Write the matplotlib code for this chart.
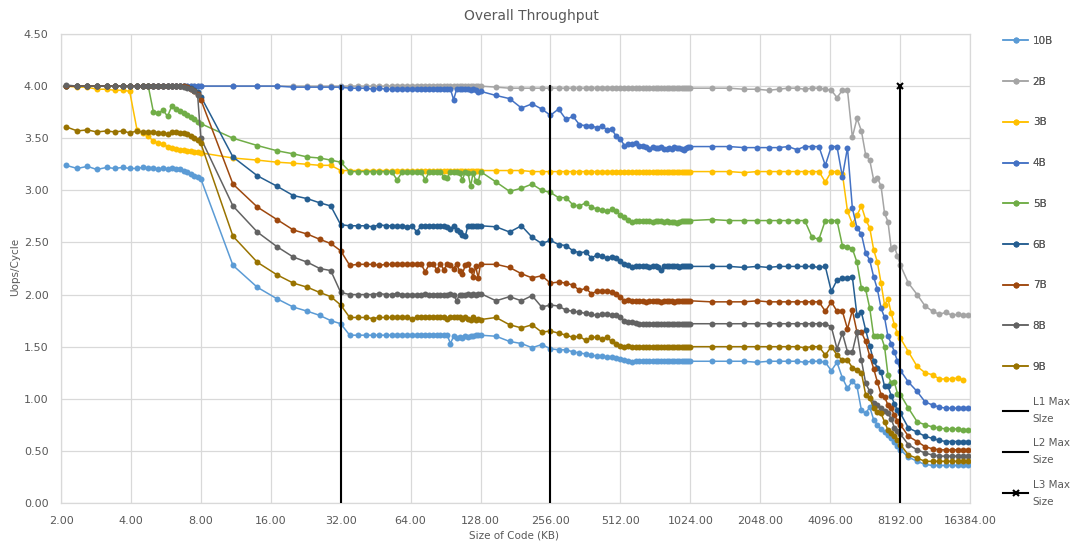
import numpy as np
import matplotlib
matplotlib.use('Agg')
import matplotlib.pyplot as plt
from matplotlib.lines import Line2D
from matplotlib.ticker import FixedLocator, NullLocator, FuncFormatter

# code size of each test run, KB
size_kb = [
    2.1, 2.35, 2.6, 2.85, 3.15, 3.4, 3.7, 3.95, 4.25, 4.5, 4.75, 5.0,
    5.25, 5.5, 5.75, 6.0, 6.25, 6.5, 6.75, 7.0, 7.25, 7.5, 7.75,
    8, 11, 14, 17, 20, 23, 26, 29, 32,
    35, 38, 41, 44, 47, 50, 53, 56, 59, 62, 65, 68, 71, 74, 77, 80,
    83, 86, 89, 92, 95, 98, 101, 104, 107, 110, 113, 116, 119, 122, 125, 128,
    149.3, 170.7, 192, 213.3, 234.7, 256, 277.3, 298.7, 320, 341.3, 362.7, 384, 405.3, 426.7,
    448, 469.3, 490.7, 512, 533.3, 554.7, 576, 597.3, 618.7, 640, 661.3, 682.7, 704, 725.3,
    746.7, 768, 789.3, 810.7, 832, 853.3, 874.7, 896, 917.3, 938.7, 960, 981.3, 1002.7, 1024,
    1264, 1504, 1744, 1984, 2224, 2464, 2704, 2944, 3184, 3424, 3664, 3904, 4144, 4384, 4624,
    4864, 5104, 5344, 5584, 5824, 6064, 6304, 6544, 6784, 7024, 7264, 7504, 7744, 7984, 8224,
    8900, 9700, 10500, 11300, 12100, 12900, 13700, 14500, 15300, 16100,
]

# uops per cycle for each instruction length
upc_10b = [
    3.24, 3.21, 3.23, 3.20, 3.22, 3.21, 3.22, 3.21, 3.21, 3.22, 3.21, 3.21,
    3.20, 3.21, 3.20, 3.21, 3.20, 3.20, 3.19, 3.18, 3.16, 3.14, 3.13,
    3.11, 2.28, 2.07, 1.96, 1.88, 1.84, 1.80, 1.75, 1.72,
    1.61, 1.61, 1.61, 1.61, 1.61, 1.61, 1.61, 1.61, 1.61, 1.61, 1.61, 1.61, 1.61, 1.61, 1.61, 1.61,
    1.61, 1.61, 1.61, 1.61, 1.53, 1.60, 1.58, 1.59, 1.58, 1.60, 1.59, 1.60, 1.60, 1.61, 1.61, 1.61,
    1.60, 1.55, 1.53, 1.49, 1.52, 1.48, 1.47, 1.47, 1.45, 1.44, 1.43, 1.42, 1.41, 1.41,
    1.40, 1.40, 1.39, 1.38, 1.37, 1.36, 1.35, 1.36, 1.36, 1.36, 1.36, 1.36, 1.36, 1.36,
    1.36, 1.36, 1.36, 1.36, 1.36, 1.36, 1.36, 1.36, 1.36, 1.36, 1.36, 1.36, 1.36, 1.36,
    1.36, 1.36, 1.36, 1.35, 1.36, 1.36, 1.36, 1.36, 1.35, 1.36, 1.36, 1.35, 1.27, 1.35, 1.20,
    1.10, 1.17, 1.12, 0.89, 0.86, 0.92, 0.80, 0.75, 0.71, 0.68, 0.65, 0.62, 0.59, 0.55, 0.51,
    0.44, 0.40, 0.37, 0.36, 0.36, 0.36, 0.36, 0.36, 0.36, 0.36,
]
upc_2b = [
    4.00, 4.00, 4.00, 4.00, 4.00, 4.00, 4.00, 4.00, 4.00, 4.00, 4.00, 4.00,
    4.00, 4.00, 4.00, 4.00, 4.00, 4.00, 4.00, 4.00, 4.00, 4.00, 4.00,
    4.00, 4.00, 4.00, 4.00, 4.00, 4.00, 4.00, 4.00, 4.00,
    4.00, 4.00, 4.00, 4.00, 4.00, 4.00, 4.00, 4.00, 4.00, 4.00, 4.00, 4.00, 4.00, 4.00, 4.00, 4.00,
    4.00, 4.00, 4.00, 4.00, 4.00, 4.00, 4.00, 4.00, 4.00, 4.00, 4.00, 4.00, 4.00, 4.00, 4.00, 4.00,
    3.99, 3.98, 3.98, 3.98, 3.98, 3.98, 3.98, 3.98, 3.98, 3.98, 3.98, 3.98, 3.98, 3.98,
    3.98, 3.98, 3.98, 3.98, 3.98, 3.98, 3.98, 3.98, 3.98, 3.98, 3.98, 3.98, 3.98, 3.98,
    3.98, 3.98, 3.98, 3.98, 3.98, 3.98, 3.98, 3.98, 3.98, 3.98, 3.98, 3.98, 3.98, 3.98,
    3.98, 3.98, 3.97, 3.97, 3.96, 3.97, 3.98, 3.98, 3.97, 3.98, 3.98, 3.97, 3.96, 3.89, 3.96,
    3.96, 3.51, 3.69, 3.57, 3.34, 3.29, 3.10, 3.12, 3.04, 2.78, 2.70, 2.44, 2.46, 2.37, 2.28,
    2.11, 2.00, 1.89, 1.84, 1.81, 1.83, 1.80, 1.81, 1.80, 1.80,
]
upc_3b = [
    4.00, 3.99, 3.99, 3.97, 3.97, 3.96, 3.96, 3.95, 3.58, 3.55, 3.52, 3.47,
    3.45, 3.44, 3.42, 3.41, 3.40, 3.39, 3.39, 3.38, 3.38, 3.37, 3.37,
    3.36, 3.31, 3.29, 3.27, 3.26, 3.25, 3.24, 3.24, 3.19,
    3.19, 3.19, 3.19, 3.19, 3.19, 3.19, 3.19, 3.19, 3.19, 3.19, 3.19, 3.19, 3.19, 3.19, 3.19, 3.19,
    3.19, 3.19, 3.19, 3.19, 3.19, 3.19, 3.19, 3.19, 3.19, 3.19, 3.19, 3.19, 3.19, 3.19, 3.19, 3.19,
    3.19, 3.19, 3.19, 3.18, 3.18, 3.18, 3.18, 3.18, 3.18, 3.18, 3.18, 3.18, 3.18, 3.18,
    3.18, 3.18, 3.18, 3.18, 3.18, 3.18, 3.18, 3.18, 3.18, 3.18, 3.18, 3.18, 3.18, 3.18,
    3.18, 3.18, 3.18, 3.18, 3.18, 3.18, 3.18, 3.18, 3.18, 3.18, 3.18, 3.18, 3.18, 3.18,
    3.18, 3.18, 3.17, 3.18, 3.18, 3.18, 3.18, 3.18, 3.18, 3.18, 3.18, 3.08, 3.18, 3.18, 3.16,
    2.80, 2.68, 2.76, 2.85, 2.72, 2.64, 2.43, 2.31, 2.11, 1.90, 1.96, 1.82, 1.71, 1.63, 1.58,
    1.45, 1.31, 1.25, 1.23, 1.19, 1.19, 1.19, 1.20, 1.18, np.nan,
]
upc_4b = [
    4.00, 4.00, 4.00, 4.00, 4.00, 4.00, 4.00, 4.00, 4.00, 4.00, 4.00, 4.00,
    4.00, 4.00, 4.00, 4.00, 4.00, 4.00, 4.00, 4.00, 4.00, 4.00, 4.00,
    4.00, 4.00, 4.00, 4.00, 3.99, 3.99, 3.99, 3.99, 3.99,
    3.98, 3.98, 3.98, 3.97, 3.98, 3.97, 3.97, 3.97, 3.97, 3.97, 3.97, 3.97, 3.97, 3.97, 3.97, 3.97,
    3.97, 3.97, 3.97, 3.97, 3.97, 3.87, 3.97, 3.97, 3.97, 3.97, 3.97, 3.96, 3.97, 3.96, 3.94, 3.95,
    3.91, 3.88, 3.79, 3.83, 3.78, 3.72, 3.78, 3.68, 3.71, 3.63, 3.62, 3.62, 3.60, 3.62,
    3.58, 3.59, 3.52, 3.49, 3.43, 3.44, 3.44, 3.45, 3.43, 3.43, 3.42, 3.40, 3.42, 3.41,
    3.41, 3.42, 3.40, 3.40, 3.41, 3.40, 3.42, 3.41, 3.41, 3.40, 3.39, 3.41, 3.42, 3.42,
    3.42, 3.42, 3.41, 3.41, 3.41, 3.41, 3.42, 3.39, 3.42, 3.42, 3.42, 3.24, 3.42, 3.42, 3.13,
    3.41, 2.83, 2.64, 2.58, 2.40, 2.33, 2.17, 2.05, 1.87, 1.78, 1.60, 1.53, 1.45, 1.36, 1.27,
    1.16, 1.07, 0.97, 0.94, 0.92, 0.91, 0.91, 0.91, 0.91, 0.91,
]
upc_5b = [
    4.00, 4.00, 4.00, 4.00, 4.00, 4.00, 4.00, 4.00, 4.00, 4.00, 4.00, 3.75,
    3.74, 3.77, 3.71, 3.81, 3.78, 3.76, 3.74, 3.72, 3.70, 3.68, 3.66,
    3.64, 3.50, 3.43, 3.38, 3.35, 3.32, 3.31, 3.29, 3.27,
    3.18, 3.18, 3.18, 3.18, 3.18, 3.18, 3.18, 3.10, 3.18, 3.18, 3.18, 3.18, 3.18, 3.10, 3.18, 3.18,
    3.18, 3.18, 3.13, 3.12, 3.18, 3.18, 3.18, 3.17, 3.10, 3.18, 3.17, 3.04, 3.17, 3.09, 3.08, 3.18,
    3.08, 2.99, 3.02, 3.06, 3.00, 2.98, 2.93, 2.93, 2.86, 2.85, 2.88, 2.84, 2.82, 2.81,
    2.80, 2.82, 2.80, 2.76, 2.74, 2.72, 2.70, 2.71, 2.71, 2.71, 2.71, 2.71, 2.70, 2.71,
    2.71, 2.71, 2.70, 2.71, 2.70, 2.70, 2.70, 2.69, 2.70, 2.71, 2.71, 2.71, 2.71, 2.71,
    2.72, 2.71, 2.71, 2.71, 2.71, 2.71, 2.71, 2.71, 2.71, 2.55, 2.53, 2.71, 2.71, 2.71, 2.47,
    2.46, 2.44, 2.31, 2.06, 2.05, 1.87, 1.60, 1.60, 1.60, 1.50, 1.23, 1.15, 1.16, 1.05, 1.04,
    0.91, 0.78, 0.75, 0.73, 0.72, 0.71, 0.71, 0.71, 0.70, 0.70,
]
upc_6b = [
    4.00, 4.00, 4.00, 4.00, 4.00, 4.00, 4.00, 4.00, 4.00, 4.00, 4.00, 4.00,
    4.00, 4.00, 4.00, 4.00, 4.00, 4.00, 4.00, 3.99, 3.98, 3.96, 3.94,
    3.90, 3.32, 3.14, 3.04, 2.95, 2.92, 2.88, 2.85, 2.67,
    2.66, 2.66, 2.66, 2.65, 2.67, 2.66, 2.66, 2.66, 2.66, 2.65, 2.66, 2.60, 2.66, 2.66, 2.66, 2.66,
    2.66, 2.66, 2.66, 2.65, 2.63, 2.66, 2.62, 2.60, 2.57, 2.56, 2.66, 2.66, 2.66, 2.66, 2.66, 2.66,
    2.65, 2.60, 2.66, 2.55, 2.49, 2.52, 2.48, 2.47, 2.42, 2.40, 2.41, 2.35, 2.38, 2.37,
    2.35, 2.36, 2.35, 2.32, 2.29, 2.28, 2.26, 2.27, 2.27, 2.27, 2.27, 2.26, 2.27, 2.27,
    2.26, 2.24, 2.27, 2.27, 2.27, 2.27, 2.27, 2.27, 2.26, 2.27, 2.27, 2.27, 2.27, 2.27,
    2.27, 2.27, 2.26, 2.27, 2.26, 2.27, 2.27, 2.27, 2.27, 2.27, 2.26, 2.27, 2.03, 2.14, 2.16,
    2.16, 2.17, 1.80, 1.83, 1.66, 1.51, 1.36, 1.30, 1.26, 1.12, 1.12, 1.03, 0.95, 0.89, 0.86,
    0.72, 0.68, 0.64, 0.62, 0.60, 0.59, 0.59, 0.59, 0.59, 0.59,
]
upc_7b = [
    4.00, 4.00, 4.00, 4.00, 4.00, 4.00, 4.00, 4.00, 4.00, 4.00, 4.00, 4.00,
    4.00, 4.00, 4.00, 4.00, 4.00, 4.00, 4.00, 3.99, 3.97, 3.95, 3.92,
    3.87, 3.06, 2.84, 2.72, 2.62, 2.58, 2.53, 2.49, 2.42,
    2.28, 2.29, 2.29, 2.29, 2.28, 2.29, 2.29, 2.29, 2.29, 2.29, 2.29, 2.29, 2.29, 2.22, 2.29, 2.29,
    2.24, 2.29, 2.24, 2.29, 2.28, 2.25, 2.29, 2.23, 2.20, 2.28, 2.29, 2.24, 2.17, 2.27, 2.16, 2.29,
    2.29, 2.26, 2.20, 2.16, 2.18, 2.11, 2.12, 2.11, 2.09, 2.04, 2.06, 2.01, 2.03, 2.03,
    2.03, 2.02, 2.01, 1.98, 1.94, 1.95, 1.94, 1.94, 1.94, 1.94, 1.93, 1.94, 1.94, 1.94,
    1.94, 1.93, 1.94, 1.94, 1.94, 1.94, 1.93, 1.94, 1.94, 1.94, 1.94, 1.94, 1.94, 1.94,
    1.93, 1.93, 1.93, 1.94, 1.93, 1.93, 1.93, 1.93, 1.93, 1.93, 1.93, 1.84, 1.93, 1.84, 1.84,
    1.67, 1.85, 1.64, 1.64, 1.55, 1.41, 1.29, 1.16, 1.04, 1.02, 0.94, 0.91, 0.84, 0.79, 0.75,
    0.64, 0.59, 0.54, 0.52, 0.51, 0.51, 0.51, 0.51, 0.51, 0.51,
]
upc_8b = [
    4.01, 4.00, 4.00, 4.00, 4.00, 4.00, 4.00, 4.00, 4.00, 4.00, 4.00, 4.00,
    4.00, 4.00, 4.00, 4.00, 4.00, 4.00, 3.99, 3.98, 3.97, 3.95, 3.91,
    3.50, 2.85, 2.60, 2.46, 2.36, 2.31, 2.25, 2.23, 2.02,
    2.00, 2.00, 2.00, 2.00, 2.01, 2.00, 2.00, 2.01, 2.00, 2.00, 2.00, 2.00, 2.00, 2.01, 2.00, 2.00,
    2.00, 2.00, 2.00, 2.00, 2.01, 2.00, 1.94, 2.00, 2.00, 2.00, 2.01, 2.00, 2.01, 2.00, 2.01, 2.01,
    1.94, 1.98, 1.94, 1.99, 1.88, 1.90, 1.89, 1.85, 1.84, 1.83, 1.82, 1.81, 1.80, 1.81,
    1.81, 1.80, 1.80, 1.78, 1.75, 1.74, 1.74, 1.73, 1.72, 1.72, 1.72, 1.72, 1.72, 1.72,
    1.72, 1.72, 1.72, 1.72, 1.72, 1.72, 1.72, 1.72, 1.72, 1.72, 1.72, 1.72, 1.72, 1.72,
    1.72, 1.72, 1.72, 1.72, 1.72, 1.72, 1.72, 1.72, 1.72, 1.72, 1.72, 1.72, 1.69, 1.48, 1.63,
    1.45, 1.45, 1.64, 1.37, 1.15, 1.07, 0.96, 0.94, 0.91, 0.88, 0.86, 0.81, 0.72, 0.69, 0.66,
    0.56, 0.51, 0.48, 0.46, 0.45, 0.45, 0.45, 0.45, 0.45, 0.45,
]
upc_9b = [
    3.61, 3.57, 3.58, 3.56, 3.57, 3.56, 3.57, 3.55, 3.57, 3.56, 3.56, 3.56,
    3.55, 3.55, 3.54, 3.56, 3.56, 3.55, 3.55, 3.54, 3.52, 3.50, 3.48,
    3.45, 2.56, 2.31, 2.19, 2.11, 2.07, 2.02, 1.98, 1.90,
    1.78, 1.78, 1.78, 1.77, 1.78, 1.78, 1.78, 1.78, 1.78, 1.78, 1.77, 1.78, 1.78, 1.78, 1.78, 1.78,
    1.78, 1.78, 1.78, 1.77, 1.78, 1.78, 1.78, 1.78, 1.77, 1.78, 1.77, 1.76, 1.78, 1.76, 1.77, 1.76,
    1.78, 1.71, 1.68, 1.71, 1.64, 1.65, 1.63, 1.61, 1.59, 1.60, 1.56, 1.59, 1.59, 1.57,
    1.59, 1.55, 1.53, 1.51, 1.50, 1.51, 1.50, 1.50, 1.50, 1.50, 1.50, 1.50, 1.50, 1.50,
    1.50, 1.50, 1.50, 1.50, 1.50, 1.50, 1.50, 1.50, 1.50, 1.50, 1.50, 1.50, 1.50, 1.50,
    1.50, 1.50, 1.50, 1.50, 1.50, 1.50, 1.50, 1.50, 1.49, 1.50, 1.50, 1.42, 1.50, 1.42, 1.37,
    1.37, 1.30, 1.28, 1.25, 1.04, 1.01, 0.91, 0.87, 0.86, 0.78, 0.70, 0.67, 0.64, 0.60, 0.56,
    0.46, 0.43, 0.40, 0.40, 0.40, 0.40, 0.40, 0.40, 0.40, 0.40,
]

series_names = ['10B', '2B', '3B', '4B', '5B', '6B', '7B', '8B', '9B']
series_values = [upc_10b, upc_2b, upc_3b, upc_4b, upc_5b, upc_6b, upc_7b, upc_8b, upc_9b]
series_colors = ['#5B9BD5', '#A5A5A5', '#FFC000', '#4472C4', '#70AD47',
                 '#255E91', '#9E480E', '#636363', '#997300']

# cache sizes, KB
cache_names = ['L1 Max\nSIze', 'L2 Max\nSize', 'L3 Max\nSize']
cache_kb = [32, 256, 8192]
cache_top = 4.0

x_ticks = [2 ** k for k in range(1, 15)]
y_ticks = [0, 0.5, 1.0, 1.5, 2.0, 2.5, 3.0, 3.5, 4.0, 4.5]

txt = '#595959'
grid = '#D9D9D9'

fig = plt.figure(figsize=(10.78, 5.43), dpi=100)
ax = fig.add_axes([61 / 1078, 1 - 503 / 543, (970 - 61) / 1078, (503 - 34) / 543])

series_lines = []
for name, vals, col in zip(series_names, series_values, series_colors):
    ln, = ax.plot(size_kb, vals, color=col, lw=1.1, marker='o', ms=4.3,
                  mew=0, label=name, zorder=3)
    series_lines.append(ln)

cache_lines = []
for i, (name, kb) in enumerate(zip(cache_names, cache_kb)):
    if i == 2:
        ln, = ax.plot([kb, kb], [0, cache_top], color='black', lw=1.5, marker='x',
                      markevery=[1], ms=5, mew=1.5, label=name, zorder=4)
    else:
        ln, = ax.plot([kb, kb], [0, cache_top], color='black', lw=1.5,
                      label=name, zorder=4)
    cache_lines.append(ln)

ax.set_xscale('log', base=2)
ax.set_xlim(2, 16384)
ax.set_ylim(0, 4.5)
ax.xaxis.set_major_locator(FixedLocator(x_ticks))
ax.xaxis.set_minor_locator(NullLocator())
ax.yaxis.set_major_locator(FixedLocator(y_ticks))
fmt = FuncFormatter(lambda v, p: f'{v:.2f}')
ax.xaxis.set_major_formatter(fmt)
ax.yaxis.set_major_formatter(fmt)
ax.tick_params(length=0, labelsize=8, labelcolor=txt, pad=9)
ax.grid(True, color=grid, lw=0.9)
ax.set_axisbelow(True)
for s in ax.spines.values():
    s.set_color(grid)
    s.set_linewidth(0.9)

fig.text(531 / 1078, 1 - 16 / 543, 'Overall Throughput', ha='center', va='center',
         fontsize=10, color=txt)
fig.text(514 / 1078, 1 - 535 / 543, 'Size of Code (KB)', ha='center', va='center',
         fontsize=7.5, color=txt)
fig.text(15 / 1078, 1 - 267 / 543, 'Uops/Cycle', ha='center', va='center',
         rotation=90, fontsize=7.5, color=txt)

leg1 = fig.legend(handles=series_lines, loc='upper left',
                  bbox_to_anchor=(1003 / 1078, 1 - 36 / 543), frameon=False,
                  fontsize=7.5, labelcolor=txt, handlelength=2.4, handletextpad=0.45,
                  labelspacing=2.95, borderpad=0, borderaxespad=0)
leg2 = fig.legend(handles=cache_lines, loc='upper left',
                  bbox_to_anchor=(1003 / 1078, 1 - 397 / 543), frameon=False,
                  fontsize=7.5, labelcolor=txt, handlelength=2.4, handletextpad=0.45,
                  labelspacing=1.35, borderpad=0, borderaxespad=0)
for t in leg2.get_texts():
    t.set_linespacing(1.9)
fig.add_artist(leg1)

fig.savefig('out.png', dpi=100)
